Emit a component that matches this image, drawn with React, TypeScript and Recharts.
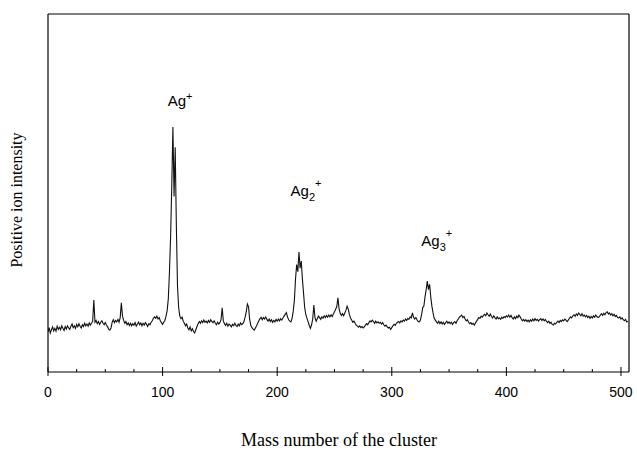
import React from 'react';
import { LineChart, Line, XAxis, YAxis, ReferenceDot, Customized } from 'recharts';

// Mass axis: one reading per mass unit, starting at 0
const MASS_START = 0;
const MASS_STEP = 1;

// Positive ion intensity (arbitrary units), mass 0..506
const intensity: number[] = [
  11.2, 12.4, 10.9, 11.8, 12.6, 11.5, 12.2, 11.4, 12.8, 11.9,
  12.5, 11.8, 12.9, 12.2, 11.6, 12.7, 12.0, 12.9, 12.3, 11.9,
  12.8, 13.4, 12.4, 12.9, 12.2, 13.3, 12.6, 13.5, 12.8, 12.3,
  13.2, 12.7, 13.6, 12.9, 13.4, 12.8, 13.7, 13.1, 13.6, 14.2,
  20.1, 13.9, 14.4, 13.5, 14.1, 13.3, 13.9, 14.3, 13.6, 13.2,
  13.8, 13.1, 12.6, 12.0, 11.7, 12.3, 13.9, 14.6, 13.8, 14.4,
  14.0, 14.7, 13.9, 15.2, 19.3, 15.6, 14.4, 13.6, 14.1, 13.2,
  13.7, 13.0, 13.6, 12.9, 13.5, 13.1, 13.8, 12.8, 13.4, 13.9,
  13.2, 13.7, 12.9, 13.6, 13.1, 13.8, 13.3, 12.7, 13.5, 13.2,
  13.9, 14.3, 15.0, 15.4, 15.0, 15.6, 14.8, 15.2, 14.3, 13.8,
  13.3, 13.9, 14.4, 15.6, 17.2, 20.5, 28.0, 38.0, 52.0, 68.4,
  49.0, 62.8, 41.0, 24.0, 18.0, 15.6, 14.9, 15.3, 14.2, 13.6,
  12.9, 13.4, 12.3, 11.8, 12.6, 11.5, 12.1, 11.3, 10.9, 11.8,
  12.7, 13.5, 14.1, 13.6, 14.3, 13.8, 14.5, 13.9, 14.2, 13.7,
  14.4, 13.9, 14.6, 14.1, 13.8, 14.3, 13.6, 13.2, 13.9, 13.4,
  13.8, 14.6, 17.9, 14.2, 13.5, 13.0, 13.6, 12.8, 13.4, 13.1,
  12.6, 13.3, 12.9, 13.6, 13.0, 12.7, 13.4, 12.9, 13.7, 13.2,
  13.5, 14.1, 15.3, 16.8, 19.0, 18.2, 14.6, 13.0, 12.4, 12.0,
  11.7, 12.3, 12.9, 13.6, 14.3, 14.9, 15.3, 14.6, 15.2, 14.8,
  15.4, 14.7, 14.2, 14.8, 14.1, 14.6, 13.9, 14.4, 14.0, 14.7,
  14.2, 14.8, 14.3, 14.9, 14.5, 15.1, 15.6, 16.1, 16.6, 15.4,
  14.6, 14.2, 14.0, 15.0, 17.0, 20.0, 26.0, 30.0, 28.0, 33.5,
  29.0, 31.0, 26.0, 22.0, 18.0, 16.0, 15.0, 14.0, 13.0, 12.2,
  13.2, 14.8, 18.7, 15.1, 14.2, 14.9, 15.6, 15.2, 14.7, 15.4,
  15.0, 15.7, 15.2, 15.8, 15.3, 15.9, 15.4, 16.0, 15.5, 16.2,
  16.8, 17.5, 18.2, 20.7, 17.6, 16.4, 15.8, 16.3, 15.7, 16.5,
  17.2, 18.4, 17.6, 16.0, 15.1, 14.5, 13.9, 14.2, 13.6, 13.1,
  12.8, 12.5, 12.9, 12.4, 12.7, 12.3, 12.6, 13.1, 13.5, 13.2,
  13.8, 14.3, 14.0, 14.5, 14.1, 13.6, 14.2, 13.7, 14.0, 13.6,
  13.9, 13.4, 13.8, 13.2, 12.8, 13.1, 12.6, 12.3, 12.5, 11.9,
  12.4, 12.9, 13.3, 13.0, 13.6, 13.9, 14.1, 13.7, 14.3, 14.0,
  14.5, 14.2, 14.8, 14.4, 15.0, 14.7, 15.4, 15.1, 16.5, 15.3,
  14.8, 15.2, 14.6, 14.1, 14.0, 14.5, 16.0, 18.0, 18.4, 21.0,
  23.0, 25.4, 23.0, 24.5, 21.0, 18.4, 16.5, 15.0, 14.5, 14.0,
  13.6, 14.2, 13.5, 14.0, 13.4, 13.9, 13.3, 13.8, 14.2, 13.6,
  14.0, 13.5, 13.9, 13.3, 13.8, 14.1, 13.6, 14.3, 14.8, 15.3,
  15.6, 15.9, 15.2, 15.5, 14.8, 14.3, 14.6, 13.9, 13.5, 13.8,
  13.3, 13.6, 13.1, 13.7, 14.2, 14.7, 15.2, 15.0, 15.6, 15.3,
  15.8, 16.1, 15.7, 16.5, 16.0, 15.6, 16.2, 15.5, 15.1, 15.7,
  15.2, 14.8, 15.4, 14.9, 15.1, 14.7, 15.3, 15.0, 15.5, 15.2,
  15.7, 15.4, 15.9, 15.3, 15.8, 15.2, 14.8, 15.4, 14.9, 15.6,
  15.2, 15.9, 15.4, 14.8, 14.3, 14.7, 14.2, 14.6, 14.1, 14.5,
  14.0, 14.6, 14.2, 14.8, 14.3, 14.9, 14.4, 14.7, 14.2, 14.6,
  14.9, 14.4, 14.8, 14.3, 14.7, 14.1, 13.8, 14.2, 13.6, 13.9,
  13.3, 13.1, 13.6, 13.4, 13.9, 14.2, 13.8, 14.4, 14.1, 14.6,
  14.3, 14.8, 14.5, 14.1, 14.5, 15.0, 15.4, 15.1, 15.7, 16.0,
  15.6, 16.2, 15.8, 16.5, 16.1, 15.7, 16.3, 15.6, 15.9, 15.4,
  15.8, 15.2, 15.6, 15.0, 15.5, 15.1, 15.7, 15.3, 15.9, 15.5,
  15.2, 15.4, 15.9, 16.3, 15.8, 16.4, 16.0, 16.6, 16.8, 16.2,
  16.5, 15.9, 16.3, 15.7, 16.1, 15.5, 15.8, 15.2, 15.1, 15.4,
  14.8, 15.1, 14.6, 14.3, 14.7, 14.0, 14.2,
];

const xTicks = [0, 25, 50, 75, 100, 125, 150, 175, 200, 225, 250, 275, 300, 325, 350, 375, 400, 425, 450, 475, 500];
const xMajorTicks = [0, 100, 200, 300, 400, 500];
const xDomain: [number, number] = [0, 507];
const yDomain: [number, number] = [0, 100];

const xTitle = 'Mass number of the cluster';
const yTitle = 'Positive ion intensity';

// Peak annotations: label text and where it sits (mass, intensity)
const annotations = [
  { base: 'Ag', sub: '', sup: '+', mass: 104.5, value: 74.3 },
  { base: 'Ag', sub: '2', sup: '+', mass: 211.7, value: 49.2 },
  { base: 'Ag', sub: '3', sup: '+', mass: 325.8, value: 35.2 },
];

const data = intensity.map((v, i) => ({ mass: MASS_START + i * MASS_STEP, intensity: v }));

const SANS = '"Liberation Sans", Arial, sans-serif';
const SERIF = '"Liberation Serif", "Times New Roman", serif';

const XTick = (props: any) => {
  const { x, y, payload } = props;
  const v = payload.value;
  const major = xMajorTicks.includes(v);
  return (
    <g>
      {major ? (
        <line x1={x} x2={x} y1={y - 5} y2={y + 4} stroke="#000" strokeWidth={1} />
      ) : (
        <line x1={x} x2={x} y1={y - 3} y2={y} stroke="#000" strokeWidth={1} />
      )}
      {major && (
        <text x={x} y={y + 25} textAnchor="middle" fontFamily={SANS} fontSize={14} fill="#000">
          {String(v)}
        </text>
      )}
    </g>
  );
};

const AnnotationShape = (ann: (typeof annotations)[number]) => (props: any) => {
  const { cx, cy } = props;
  return (
    <text x={cx} y={cy} fontFamily={SANS} fontSize={15} fill="#000">
      <tspan>{ann.base}</tspan>
      {ann.sub ? (
        <>
          <tspan fontSize={11} dy={5}>{ann.sub}</tspan>
          <tspan fontSize={11} dy={-14}>{ann.sup}</tspan>
        </>
      ) : (
        <tspan fontSize={11} dy={-6}>{ann.sup}</tspan>
      )}
    </text>
  );
};

const Titles = () => (
  <g>
    <text x={339} y={446} textAnchor="middle" fontFamily={SERIF} fontSize={18} fill="#000">
      {xTitle}
    </text>
    <text
      x={0}
      y={0}
      transform="translate(22,200) rotate(-90)"
      textAnchor="middle"
      fontFamily={SERIF}
      fontSize={16}
      fill="#000"
    >
      {yTitle}
    </text>
  </g>
);

export default function App() {
  return (
    <div style={{ position: 'absolute', left: 0, top: 0, background: '#fff' }}>
      <LineChart
        width={637}
        height={454}
        data={data}
        margin={{ top: 13, right: 7, bottom: 52, left: 47 }}
      >
        <XAxis
          dataKey="mass"
          type="number"
          domain={xDomain}
          ticks={xTicks}
          interval={0}
          height={30}
          tickSize={0}
          tickMargin={0}
          tickLine={false}
          tick={<XTick />}
          axisLine={{ stroke: '#000', strokeWidth: 1.2 }}
          allowDataOverflow
        />
        <XAxis
          xAxisId="top"
          orientation="top"
          dataKey="mass"
          type="number"
          domain={xDomain}
          height={1}
          tick={false}
          tickLine={false}
          axisLine={{ stroke: '#000', strokeWidth: 1.2 }}
        />
        <YAxis
          type="number"
          domain={yDomain}
          width={1}
          tick={false}
          tickLine={false}
          axisLine={{ stroke: '#000', strokeWidth: 1.2 }}
        />
        <YAxis
          yAxisId="right"
          orientation="right"
          type="number"
          domain={yDomain}
          width={1}
          tick={false}
          tickLine={false}
          axisLine={{ stroke: '#000', strokeWidth: 1.2 }}
        />
        <Line
          type="linear"
          dataKey="intensity"
          stroke="#111"
          strokeWidth={1.1}
          dot={false}
          isAnimationActive={false}
        />
        {annotations.map((a, i) => (
          <ReferenceDot
            key={i}
            x={a.mass}
            y={a.value}
            r={0}
            shape={AnnotationShape(a)}
          />
        ))}
        <Customized component={<Titles />} />
      </LineChart>
    </div>
  );
}
